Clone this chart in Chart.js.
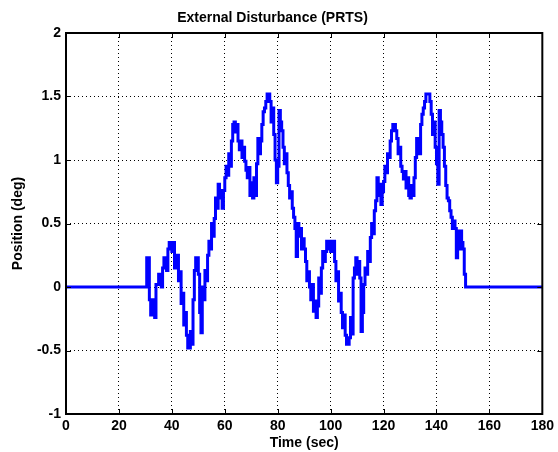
<!DOCTYPE html>
<html>
<head>
<meta charset="utf-8">
<script src="https://cdn.jsdelivr.net/npm/chart.js@4.4.1/dist/chart.umd.min.js"></script>
<style>
  html, body { margin: 0; padding: 0; background: #fff; }
</style>
</head>
<body>
<canvas id="c" width="558" height="452"></canvas>
<script>
// PRTS disturbance (time in s, position in deg)
const times = [
  0, 30, 30.5, 31.5, 32, 33, 33.5, 34, 35, 36, 36.5, 37, 38, 38.5, 39, 40, 40.5, 41, 42, 42.5,
  43, 43.5, 44, 44.5, 45, 45.5, 46, 47, 47.5, 48, 48.5, 49, 50, 50.5, 51, 51.5, 52, 52.5, 53, 53.5,
  54, 54.5, 55, 55.5, 56, 56.5, 57, 57.5, 58, 58.5, 59, 59.5, 60, 60.5, 61, 61.5, 62, 62.5, 63, 63.5,
  64, 64.5, 65, 65.5, 66, 66.5, 67, 67.5, 68, 68.5, 69, 69.5, 70, 70.5, 71, 71.5, 72, 72.5, 73, 73.5,
  74, 74.5, 75, 75.5, 76, 77, 77.5, 78, 78.5, 79, 79.5, 80, 80.5, 81, 81.5, 82, 82.5, 83, 83.5, 84,
  84.5, 85, 85.5, 86, 86.5, 87, 87.5, 88, 88.5, 89, 89.5, 90, 90.5, 91, 91.5, 92, 92.5, 93, 93.5, 94,
  94.5, 95, 95.5, 96, 96.5, 97, 97.5, 98, 98.5, 99, 99.5, 100, 101, 101.5, 102, 102.5, 103, 103.5, 104, 104.5,
  105, 105.5, 106, 107, 107.5, 108, 108.5, 109, 109.5, 110, 110.5, 111, 111.5, 112, 112.5, 113, 113.5, 114, 114.5, 115,
  115.5, 116, 116.5, 117, 117.5, 118, 118.5, 119, 119.5, 120, 120.5, 121, 121.5, 122, 122.5, 123, 123.5, 124.5, 125, 125.5,
  126, 126.5, 127, 127.5, 128, 128.5, 129, 129.5, 130, 130.5, 131, 131.5, 132, 132.5, 133, 133.5, 134, 134.5, 135, 135.5,
  136, 137.5, 138, 138.5, 139, 139.5, 140, 140.5, 141, 141.5, 142, 142.5, 143, 143.5, 144, 144.5, 145, 145.5, 146, 146.5,
  147, 147.5, 148, 148.5, 149, 149.5, 150, 150.5, 151, 180
];
const positions = [
  0, 0, 0.23, -0.1, -0.22, -0.1, -0.24, 0.02, 0.1, 0.0, 0.15, 0.23, 0.13, 0.3, 0.35, 0.28, 0.35, 0.15, 0.25, 0.05,
  0.12, -0.13, -0.05, -0.3, -0.2, -0.38, -0.48, -0.35, -0.45, -0.1, 0.13, 0.23, 0.1, -0.2, -0.36, 0.0, -0.1, 0.13, 0.05, 0.25,
  0.36, 0.3, 0.5, 0.4, 0.54, 0.7, 0.62, 0.81, 0.7, 0.76, 0.62, 0.76, 0.86, 0.95, 0.88, 1.05, 0.95, 1.15, 1.28, 1.3,
  1.22, 1.28, 1.15, 1.08, 1.15, 1.02, 1.1, 0.99, 0.92, 0.86, 0.94, 0.72, 0.82, 0.7, 0.86, 0.72, 0.97, 1.17, 1.05, 1.15,
  1.28, 1.38, 1.41, 1.46, 1.52, 1.46, 1.3, 1.41, 1.2, 1.0, 0.82, 0.95, 1.39, 1.3, 1.23, 1.1, 0.97, 1.05, 0.9, 0.8,
  0.7, 0.75, 0.62, 0.55, 0.46, 0.24, 0.5, 0.4, 0.46, 0.3, 0.38, 0.3, 0.2, 0.05, 0.12, 0.0, -0.1, 0.02, -0.19, -0.11,
  -0.24, -0.15, 0.07, -0.05, 0.15, 0.28, 0.2, 0.28, 0.36, 0.3, 0.36, 0.28, 0.36, 0.2, 0.05, 0.12, -0.11, -0.05, -0.2, -0.32,
  -0.22, -0.38, -0.45, -0.4, -0.24, -0.37, 0.07, 0.15, 0.23, 0.1, 0.2, 0.07, -0.35, -0.2, 0.02, 0.15, 0.1, 0.28, 0.2, 0.39,
  0.5, 0.42, 0.6, 0.68, 0.86, 0.72, 0.81, 0.65, 0.75, 0.83, 0.95, 0.9, 1.05, 1.02, 1.15, 1.23, 1.28, 1.23, 1.17, 1.05,
  1.1, 0.95, 0.91, 0.85, 0.91, 0.78, 0.86, 0.72, 0.7, 0.8, 0.72, 0.86, 1.02, 1.17, 1.1, 1.05, 1.28, 1.36, 1.41, 1.46,
  1.52, 1.46, 1.36, 1.2, 1.3, 1.1, 0.97, 0.81, 1.39, 1.3, 1.2, 1.1, 0.95, 0.8, 0.7, 0.68, 0.6, 0.55, 0.46, 0.52,
  0.46, 0.23, 0.44, 0.3, 0.44, 0.35, 0.3, 0.1, 0, 0
];
const xTicks = [0, 20, 40, 60, 80, 100, 120, 140, 160, 180];
const yTicks = [-1, -0.5, 0, 0.5, 1, 1.5, 2];

const FONT = 'Liberation Sans, Arial, Helvetica, sans-serif';

// MATLAB style box with inward tick marks
const frame = {
  id: 'frame',
  afterDatasetsDraw(chart) {
    const { ctx, chartArea: a, scales: { x, y } } = chart;
    ctx.save();
    ctx.strokeStyle = '#000';
    ctx.lineWidth = 1;
    ctx.beginPath();
    xTicks.forEach(v => {
      const px = Math.round(x.getPixelForValue(v)) + 0.5;
      ctx.moveTo(px, a.bottom); ctx.lineTo(px, a.bottom - 5);
      ctx.moveTo(px, a.top); ctx.lineTo(px, a.top + 5);
    });
    yTicks.forEach(v => {
      const py = Math.round(y.getPixelForValue(v)) + 0.5;
      ctx.moveTo(a.left, py); ctx.lineTo(a.left + 5, py);
      ctx.moveTo(a.right, py); ctx.lineTo(a.right - 5, py);
    });
    ctx.stroke();
    ctx.lineWidth = 2;
    ctx.strokeRect(a.left, a.top, a.right - a.left, a.bottom - a.top);
    ctx.restore();
  }
};

new Chart(document.getElementById('c'), {
  type: 'line',
  data: {
    datasets: [{
      data: times.map((t, i) => ({ x: t, y: positions[i] })),
      borderColor: '#0000ff',
      borderWidth: 3,
      pointRadius: 0,
      stepped: true,
      fill: false
    }]
  },
  options: {
    responsive: false,
    animation: false,
    layout: { padding: { top: 0, right: 13, left: 0, bottom: 0 } },
    plugins: {
      legend: { display: false },
      tooltip: { enabled: false },
      title: {
        display: true,
        text: 'External Disturbance (PRTS)',
        color: '#000',
        font: { family: FONT, size: 14, weight: 'bold' },
        padding: { top: 10, bottom: 6.2 }
      }
    },
    scales: {
      x: {
        type: 'linear',
        min: 0, max: 180,
        afterFit(s) { s.height = 38; },
        ticks: { stepSize: 20, color: '#000', padding: 4, maxRotation: 0,
                 font: { family: FONT, size: 14, weight: 'bold' } },
        grid: { color: '#000', lineWidth: 1, drawTicks: false },
        border: { display: false, dash: [1, 3] },
        title: { display: true, text: 'Time (sec)', color: '#000', padding: { top: 0, bottom: 0 },
                 font: { family: FONT, size: 14, weight: 'bold' } }
      },
      y: {
        min: -1, max: 2,
        afterFit(s) { s.width = 66; },
        ticks: { stepSize: 0.5, color: '#000', padding: 5,
                 font: { family: FONT, size: 14, weight: 'bold' },
                 callback: v => String(v) },
        grid: { color: '#000', lineWidth: 1, drawTicks: false },
        border: { display: false, dash: [1, 3] },
        title: { display: true, text: 'Position (deg)', color: '#000', padding: { top: 10, bottom: 0 },
                 font: { family: FONT, size: 14, weight: 'bold' } }
      }
    }
  },
  plugins: [frame]
});
</script>
</body>
</html>
